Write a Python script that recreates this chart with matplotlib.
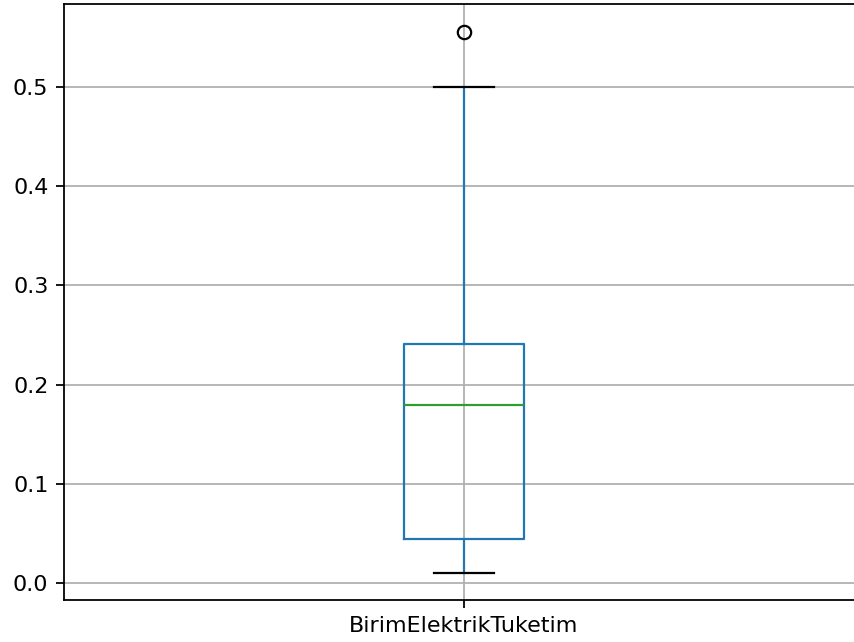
import matplotlib
matplotlib.use("Agg")
import matplotlib.pyplot as plt

# Box statistics
label = "BirimElektrikTuketim"
q1 = 0.044
median = 0.179
q3 = 0.241
whislo = 0.010
whishi = 0.500
fliers = [0.556]

stats = [{
    "label": label,
    "q1": q1,
    "med": median,
    "q3": q3,
    "whislo": whislo,
    "whishi": whishi,
    "fliers": fliers,
}]

dpi = 160
fig = plt.figure(figsize=(854 / dpi, 642 / dpi), dpi=dpi)
# the reference is cropped on the right, so the axes run past the edge
ax = fig.add_axes([0.0749, 0.0654, 0.9368, 0.9276])

ax.bxp(
    stats,
    widths=0.15,
    boxprops=dict(color="C0"),
    whiskerprops=dict(color="C0"),
    medianprops=dict(color="C2"),
    capprops=dict(color="black"),
    flierprops=dict(marker="o", markeredgecolor="black", markerfacecolor="none"),
)
ax.grid(True)

fig.savefig("out.png", dpi=dpi)
